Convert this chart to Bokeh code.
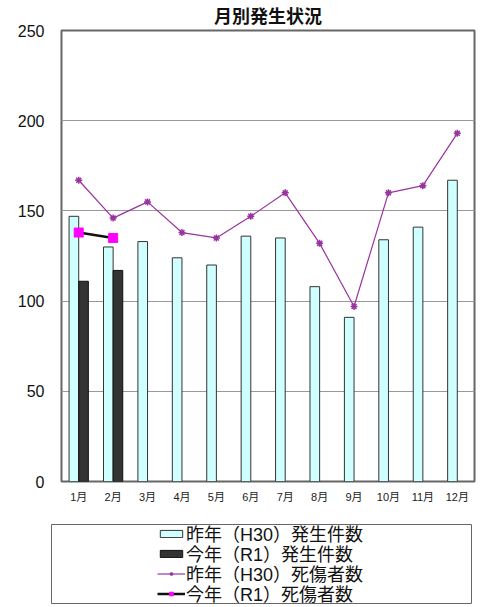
from bokeh.plotting import figure
from bokeh.models import ColumnDataSource, FactorRange, Legend, LegendItem, FixedTicker, Range1d
from bokeh.transform import dodge
from bokeh.layouts import column
from bokeh.embed import file_html
from bokeh.resources import INLINE

months = ["1月", "2月", "3月", "4月", "5月", "6月", "7月", "8月", "9月", "10月", "11月", "12月"]
cases_h30 = [147, 130, 133, 124, 120, 136, 135, 108, 91, 134, 141, 167]
cases_r1 = [111, 117]
casualties_h30 = [167, 146, 155, 138, 135, 147, 160, 132, 97, 160, 164, 193]
casualties_r1 = [138, 135]
y_ticks = [0, 50, 100, 150, 200, 250]
legend_labels = ["昨年（H30）発生件数", "今年（R1）発生件数", "昨年（H30）死傷者数", "今年（R1）死傷者数"]

FONT = "'Liberation Sans', 'Noto Sans CJK JP'"

BAR1 = dict(fill_color="#D0FFFF", line_color="#333333", line_width=1)
BAR2 = dict(fill_color="#333333", line_color="#111111", line_width=1)
LINE1 = dict(line_color="#9933A0", line_width=1.2)
MARK1 = dict(marker="asterisk", size=7, line_color="#9933A0", line_width=1.5)
LINE2 = dict(line_color="#111111", line_width=2.5)
MARK2 = dict(marker="square", size=9, fill_color="#FF00FF", line_color="#FF00FF")

src_h30 = ColumnDataSource(dict(m=months, cases=cases_h30, cas=casualties_h30))
src_r1 = ColumnDataSource(dict(m=months[:len(cases_r1)], cases=cases_r1, cas=casualties_r1))

p = figure(x_range=FactorRange(*months), y_range=Range1d(0, 250),
           frame_width=413, frame_height=451, output_backend="svg", toolbar_location=None,
           min_border_left=61, min_border_right=10, min_border_top=30, min_border_bottom=43,
           title="月別発生状況")
p.title.align = "center"
p.title.text_font = FONT
p.title.text_font_size = "18px"
p.title.text_font_style = "bold"
p.title.text_color = "#111111"
p.title.offset = 0
p.title.standoff = 8

p.vbar(x=dodge("m", -0.14, range=p.x_range), top="cases", width=0.28, source=src_h30, **BAR1)
p.vbar(x=dodge("m", 0.14, range=p.x_range), top="cases", width=0.28, source=src_r1, **BAR2)
p.line(x="m", y="cas", source=src_h30, **LINE1)
p.scatter(x="m", y="cas", source=src_h30, **MARK1)
p.line(x="m", y="cas", source=src_r1, **LINE2)
p.scatter(x="m", y="cas", source=src_r1, **MARK2)

p.xgrid.grid_line_color = None
p.ygrid.grid_line_color = "#999999"
p.ygrid.ticker = FixedTicker(ticks=y_ticks)
p.yaxis.ticker = FixedTicker(ticks=y_ticks)
p.yaxis.axis_line_color = None
p.yaxis.major_tick_line_color = None
p.yaxis.minor_tick_line_color = None
p.yaxis.major_tick_out = 0
p.yaxis.major_label_text_font = FONT
p.yaxis.major_label_text_font_size = "16px"
p.yaxis.major_label_text_color = "#111111"
p.yaxis.major_label_standoff = 17

p.xaxis.axis_line_color = None
p.xaxis.major_tick_line_color = None
p.xaxis.major_tick_out = 0
p.xaxis.major_label_text_font = FONT
p.xaxis.major_label_text_font_size = "11px"
p.xaxis.major_label_text_color = "#222222"
p.xaxis.major_label_standoff = 9

p.outline_line_color = "#666666"
p.outline_line_width = 2
p.background_fill_color = "white"

# legend panel (box under the chart); sample renderers sit outside the visible range
lg = figure(x_range=Range1d(0, 1), y_range=Range1d(0, 1), frame_width=420, frame_height=80,
            x_axis_type=None, y_axis_type=None, output_backend="svg", toolbar_location=None,
            min_border_left=51, min_border_right=13, min_border_top=0, min_border_bottom=0)
lg.outline_line_color = "#666666"
lg.outline_line_width = 1
hidden = lambda: ColumnDataSource(dict(x=[-5, -4], y=[-5, -4]))
d_b1 = lg.vbar(x="x", top="y", width=0.1, source=hidden(), **BAR1)
d_b2 = lg.vbar(x="x", top="y", width=0.1, source=hidden(), **BAR2)
d_l1 = lg.line(x="x", y="y", source=hidden(), **LINE1)
d_m1 = lg.scatter(x="x", y="y", source=hidden(), **MARK1)
d_l2 = lg.line(x="x", y="y", source=hidden(), **LINE2)
d_m2 = lg.scatter(x="x", y="y", source=hidden(), **MARK2)

entries = [[d_b1], [d_b2], [d_l1, d_m1], [d_l2, d_m2]]
row_bottoms = [58, 38, 18, -2]
for label, rends, vy in zip(legend_labels, entries, row_bottoms):
    lgd = Legend(items=[LegendItem(label=label, renderers=rends)], location=(106, vy))
    lgd.label_text_font = FONT
    lgd.label_text_font_size = "18px"
    lgd.label_text_color = "#111111"
    lgd.label_height = 20
    lgd.glyph_height = 9
    lgd.glyph_width = 28
    lgd.spacing = 0
    lgd.padding = 0
    lgd.margin = 0
    lgd.label_standoff = 1
    lgd.border_line_color = None
    lgd.background_fill_alpha = 0
    lg.add_layout(lgd, "center")

layout = column(p, column(lg), spacing=0)
open("out.html", "w").write(file_html(layout, INLINE))
